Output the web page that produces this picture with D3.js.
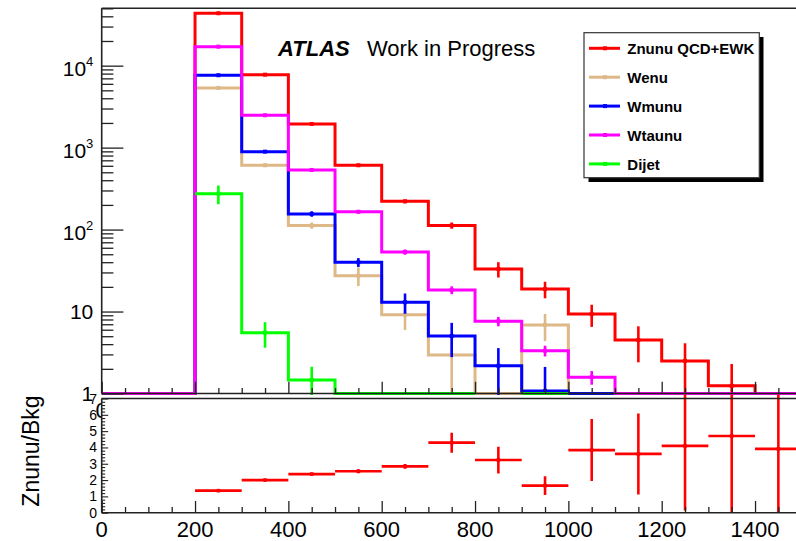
<!DOCTYPE html>
<html>
<head>
<meta charset="utf-8">
<script src="https://cdn.jsdelivr.net/npm/d3@7"></script>
<style>
  body { margin: 0; background: #fff; }
  svg { display: block; font-family: "Liberation Sans", Arial, Helvetica, sans-serif; }
</style>
</head>
<body>
<svg id="chart" width="796" height="541"></svg>
<script>
// ---- data: MET-like spectrum in 100-wide bins from 0 to 1500 ----
const binEdges = [0, 100, 200, 300, 400, 500, 600, 700, 800, 900, 1000, 1100, 1200, 1300, 1400, 1500];

const seriesNames = ["Znunu QCD+EWK", "Wenu", "Wmunu", "Wtaunu", "Dijet"];
const seriesColors = ["#ff0000", "#deb887", "#0000ff", "#ff00ff", "#00ff00"];

// bin contents (null = bin not drawn)
const znunu  = [0, 0, 43600, 7760, 1945, 609, 221, 112, 33.0, 18.8, 9.3, 4.5, 2.5, 1.24, 0.6];
const wenu   = [0, 0, 5350, 609, 112, 27.4, 9.16, 2.95, 0, 6.86, 0, 0, 0, 0, 0];
const wmunu  = [0, 0, 7640, 893, 155, 39.9, 13.0, 5.03, 2.18, 1.07, 0, 0, 0, 0, 0];
const wtaunu = [0, 0, 17050, 2483, 534, 165, 53.3, 18.3, 7.6, 3.33, 1.58, 0, 0, 0, 0];
const dijet  = [null, null, 274, 5.52, 1.46, 0, 0, 0, null, 0, null, null, null, null, null];

// statistical uncertainties per bin
const znunuErr  = [0, 0, 250, 110, 50, 25, 11, 10, 7, 4.3, 2.8, 2.1, 1.6, 1.05, 0.3];
const wenuErr   = [0, 0, 80, 30, 10, 7, 3.2, 2.2, 0, 2.5, 0, 0, 0, 0, 0];
const wmunuErr  = [0, 0, 100, 35, 12, 5, 3.6, 2.25, 1.4, 1.04, 0, 0, 0, 0, 0];
const wtaunuErr = [0, 0, 150, 60, 20, 8, 4, 2, 1, 0.5, 0.3, 0, 0, 0, 0];
const dijetErr  = [0, 0, 70, 1.9, 0.66, 0, 0, 0, 0, 0, 0, 0, 0, 0, 0];

// ratio Znunu / total background, bins 200..1500
const ratioCenters = [250, 350, 450, 550, 650, 750, 850, 950, 1050, 1150, 1250, 1350, 1450];
const ratioValues  = [1.35, 2.00, 2.37, 2.54, 2.84, 4.29, 3.23, 1.66, 3.84, 3.60, 4.09, 4.70, 3.91];
const ratioErrors  = [0.03, 0.05, 0.06, 0.12, 0.15, 0.61, 0.82, 0.58, 1.9, 2.48, 3.95, 5.2, 4.6];

// axis tick labels
const xTickLabels = [0, 200, 400, 600, 800, 1000, 1200, 1400];
const yLogLabels = [
  { v: 1, base: "1", exp: null },
  { v: 10, base: "10", exp: null },
  { v: 100, base: "10", exp: "2" },
  { v: 1000, base: "10", exp: "3" },
  { v: 10000, base: "10", exp: "4" }
];
const ratioTickLabels = [0, 1, 2, 3, 4, 5, 6, 7];

// ---- layout ----
const svg = d3.select("#chart");
const frameL = 101.7, topT = 8.3, topB = 393.5, lowT = 398.5, lowB = 512.7;
const axisColor = "#222";

const x = d3.scaleLinear().domain([0, 1500]).range([frameL, 801.7]);
const yTop = d3.scaleLog().domain([1, 50100]).range([topB, topT]);
const yRat = d3.scaleLinear().domain([0, 7]).range([lowB, lowT]);

const defs = svg.append("defs");
defs.append("clipPath").attr("id", "clipTop")
  .append("rect").attr("x", frameL).attr("y", topT).attr("width", 796 - frameL).attr("height", topB + 1.5 - topT);
defs.append("clipPath").attr("id", "clipLow")
  .append("rect").attr("x", frameL).attr("y", 394.5).attr("width", 796 - frameL).attr("height", lowB - 394.5);

// ---- upper panel ----
// x labels of the upper pad (mostly hidden under the ratio frame)
svg.append("g").selectAll("text").data(xTickLabels).join("text")
  .attr("x", d => x(d)).attr("y", 418).attr("text-anchor", "middle")
  .attr("font-size", 22).attr("fill", "#000").text(d => d);

const histLayer = svg.append("g").attr("clip-path", "url(#clipTop)");

function stepPath(vals) {
  const p = d3.path();
  let prev = false;
  vals.forEach((v, i) => {
    if (v == null) { prev = false; return; }
    const yy = yTop(Math.max(v, yTop.domain()[0]));
    const x0 = x(binEdges[i]), x1 = x(binEdges[i + 1]);
    if (prev) p.lineTo(x0, yy); else p.moveTo(x0, yy);
    p.lineTo(x1, yy);
    prev = true;
  });
  return p.toString();
}

const allSeries = [
  { vals: znunu, errs: znunuErr },
  { vals: wenu, errs: wenuErr },
  { vals: wmunu, errs: wmunuErr },
  { vals: wtaunu, errs: wtaunuErr },
  { vals: dijet, errs: dijetErr }
];

allSeries.forEach((s, k) => {
  const col = seriesColors[k];
  const g = histLayer.append("g");
  g.append("path").attr("d", stepPath(s.vals))
    .attr("fill", "none").attr("stroke", col).attr("stroke-width", 3)
    .attr("stroke-linejoin", "miter");
  const pts = s.vals.map((v, i) => ({ v, e: s.errs[i], c: (binEdges[i] + binEdges[i + 1]) / 2 }))
    .filter(d => d.v != null && d.v > 0);
  g.selectAll("line.err").data(pts.filter(d => d.e > 0)).join("line")
    .attr("x1", d => x(d.c)).attr("x2", d => x(d.c))
    .attr("y1", d => yTop(Math.max(d.v - d.e, 0.3)))
    .attr("y2", d => yTop(d.v + d.e))
    .attr("stroke", col).attr("stroke-width", 2.6);
  g.selectAll("rect.mk").data(pts.filter(d => d.v >= 1)).join("rect")
    .attr("x", d => x(d.c) - 2).attr("y", d => yTop(d.v) - 2)
    .attr("width", 4).attr("height", 4).attr("fill", col);
});

// upper axes
const upperAxis = svg.append("g");
upperAxis.append("line").attr("x1", frameL).attr("x2", 796).attr("y1", topT).attr("y2", topT)
  .attr("stroke", axisColor).attr("stroke-width", 1.6);
upperAxis.append("line").attr("x1", frameL).attr("x2", 796).attr("y1", topB).attr("y2", topB)
  .attr("stroke", axisColor).attr("stroke-width", 1.4);
upperAxis.append("line").attr("x1", frameL).attr("x2", frameL).attr("y1", topT).attr("y2", topB)
  .attr("stroke", axisColor).attr("stroke-width", 1.6);

const majorLog = [1, 10, 100, 1000, 10000];
const minorLog = [];
majorLog.forEach(m => { for (let k = 2; k <= 9; k++) if (m * k <= 50100) minorLog.push(m * k); });

const yMajAxis = d3.axisLeft(yTop).tickValues(majorLog).tickSize(-21.7).tickFormat("");
const yMinAxis = d3.axisLeft(yTop).tickValues(minorLog).tickSize(-11.7).tickFormat("");
[yMajAxis, yMinAxis].forEach(a => {
  const g = svg.append("g").attr("transform", `translate(${frameL},0)`).call(a);
  g.select(".domain").remove();
  g.selectAll(".tick line").attr("stroke", axisColor).attr("stroke-width", 1.3);
});

const xMaj = d3.range(0, 1501, 200), xMin = d3.range(0, 1501, 50).filter(v => v % 200 !== 0);
function xTicks(yPos, majLen, minLen) {
  [[xMaj, majLen], [xMin, minLen]].forEach(([vals, len]) => {
    const g = svg.append("g").attr("transform", `translate(0,${yPos})`)
      .call(d3.axisBottom(x).tickValues(vals).tickSize(-len).tickFormat(""));
    g.select(".domain").remove();
    g.selectAll(".tick line").attr("stroke", axisColor).attr("stroke-width", 1.3);
  });
}
xTicks(topB, 11.7, 5.5);

// log-axis labels
const yLab = svg.append("g").attr("font-size", 21).attr("fill", "#000").attr("text-anchor", "end");
yLogLabels.forEach(d => {
  const t = yLab.append("text").attr("x", 93.3)
    .attr("y", yTop(d.v) + (d.exp ? 10.3 : 7.5));
  t.append("tspan").text(d.base);
  if (d.exp) t.append("tspan").attr("font-size", 13).attr("dy", -9.5).text(d.exp);
});

// title
const title = svg.append("text").attr("x", 278).attr("y", 55.5).attr("font-size", 22).attr("fill", "#000");
title.append("tspan").attr("font-weight", "bold").attr("font-style", "italic").text("ATLAS");
title.append("tspan").attr("x", 367).text("Work in Progress");

// legend
const leg = svg.append("g");
leg.append("rect").attr("x", 588.5).attr("y", 37).attr("width", 175).attr("height", 145).attr("fill", "#000");
leg.append("rect").attr("x", 584).attr("y", 32.7).attr("width", 175.3).attr("height", 145)
  .attr("fill", "#fff").attr("stroke", "#333").attr("stroke-width", 1.2);
seriesNames.forEach((name, i) => {
  const cy = 48.3 + i * 28.9;
  leg.append("line").attr("x1", 589).attr("x2", 620).attr("y1", cy).attr("y2", cy)
    .attr("stroke", seriesColors[i]).attr("stroke-width", 3);
  leg.append("rect").attr("x", 603).attr("y", cy - 2).attr("width", 4).attr("height", 4).attr("fill", seriesColors[i]);
  leg.append("text").attr("x", 627.3).attr("y", cy + 5.6).attr("font-size", 15).attr("font-weight", "bold")
    .attr("fill", "#000").text(name);
});

// ---- lower ratio panel ----
svg.append("rect").attr("x", frameL).attr("y", lowT).attr("width", 796 - frameL).attr("height", lowB - lowT)
  .attr("fill", "#fff");

const ratLayer = svg.append("g").attr("clip-path", "url(#clipLow)");
const rpts = ratioCenters.map((c, i) => ({ c, v: ratioValues[i], e: ratioErrors[i] }));
ratLayer.selectAll("line.h").data(rpts).join("line")
  .attr("x1", d => x(d.c - 50)).attr("x2", d => x(d.c + 50))
  .attr("y1", d => yRat(d.v)).attr("y2", d => yRat(d.v))
  .attr("stroke", "#ff0000").attr("stroke-width", 2.7);
ratLayer.selectAll("line.v").data(rpts).join("line")
  .attr("x1", d => x(d.c)).attr("x2", d => x(d.c))
  .attr("y1", d => yRat(d.v - d.e)).attr("y2", d => yRat(d.v + d.e))
  .attr("stroke", "#ff0000").attr("stroke-width", 2.6);
ratLayer.selectAll("rect").data(rpts).join("rect")
  .attr("x", d => x(d.c) - 1.8).attr("y", d => yRat(d.v) - 1.8)
  .attr("width", 3.6).attr("height", 3.6).attr("fill", "#ff0000");

const lowerAxis = svg.append("g");
lowerAxis.append("line").attr("x1", frameL).attr("x2", 796).attr("y1", lowT).attr("y2", lowT)
  .attr("stroke", axisColor).attr("stroke-width", 1.6);
lowerAxis.append("line").attr("x1", frameL).attr("x2", 796).attr("y1", lowB).attr("y2", lowB)
  .attr("stroke", axisColor).attr("stroke-width", 1.6);
lowerAxis.append("line").attr("x1", frameL).attr("x2", frameL).attr("y1", lowT).attr("y2", lowB)
  .attr("stroke", axisColor).attr("stroke-width", 1.6);

const rMaj = ratioTickLabels;
const rMin = d3.range(0, 35).map(k => k * 0.2).filter(v => Math.abs(v - Math.round(v)) > 1e-6);
[[rMaj, 6.5], [rMin, 3.5]].forEach(([vals, len]) => {
  const g = svg.append("g").attr("transform", `translate(${frameL},0)`)
    .call(d3.axisLeft(yRat).tickValues(vals).tickSize(-len).tickFormat(""));
  g.select(".domain").remove();
  g.selectAll(".tick line").attr("stroke", axisColor).attr("stroke-width", 1.1);
});
xTicks(lowB, 11.7, 5.7);

svg.append("g").attr("font-size", 14).attr("fill", "#000").attr("text-anchor", "end")
  .selectAll("text").data(ratioTickLabels).join("text")
  .attr("x", 97).attr("y", d => yRat(d) + 5).text(d => d);

svg.append("g").attr("font-size", 22).attr("fill", "#000").attr("text-anchor", "middle")
  .selectAll("text").data(xTickLabels).join("text")
  .attr("x", d => x(d)).attr("y", 537).text(d => d);

svg.append("text").attr("transform", "translate(38.5,451) rotate(-90)")
  .attr("text-anchor", "middle").attr("font-size", 23).attr("fill", "#000").text("Znunu/Bkg");
</script>
</body>
</html>
